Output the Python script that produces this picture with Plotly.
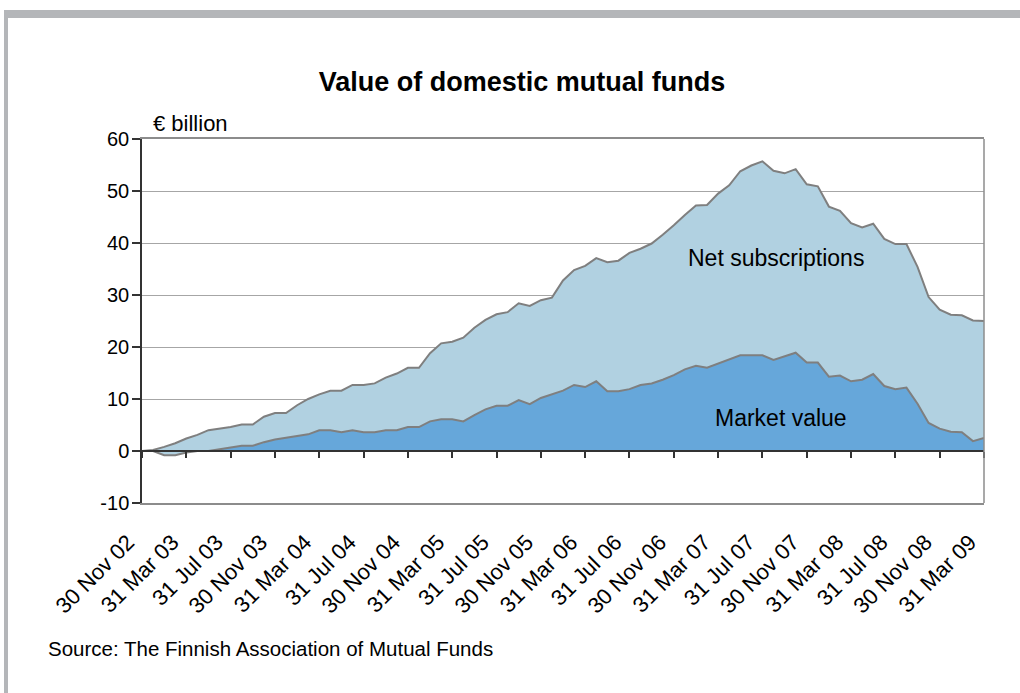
import plotly.graph_objects as go

# Month-end observations, Nov 2002 .. Mar 2009 (EUR billion)
months = [
    "Nov 02", "Dec 02", "Jan 03", "Feb 03", "Mar 03", "Apr 03", "May 03", "Jun 03", "Jul 03", "Aug 03",
    "Sep 03", "Oct 03", "Nov 03", "Dec 03", "Jan 04", "Feb 04", "Mar 04", "Apr 04", "May 04", "Jun 04",
    "Jul 04", "Aug 04", "Sep 04", "Oct 04", "Nov 04", "Dec 04", "Jan 05", "Feb 05", "Mar 05", "Apr 05",
    "May 05", "Jun 05", "Jul 05", "Aug 05", "Sep 05", "Oct 05", "Nov 05", "Dec 05", "Jan 06", "Feb 06",
    "Mar 06", "Apr 06", "May 06", "Jun 06", "Jul 06", "Aug 06", "Sep 06", "Oct 06", "Nov 06", "Dec 06",
    "Jan 07", "Feb 07", "Mar 07", "Apr 07", "May 07", "Jun 07", "Jul 07", "Aug 07", "Sep 07", "Oct 07",
    "Nov 07", "Dec 07", "Jan 08", "Feb 08", "Mar 08", "Apr 08", "May 08", "Jun 08", "Jul 08", "Aug 08",
    "Sep 08", "Oct 08", "Nov 08", "Dec 08", "Jan 09", "Feb 09", "Mar 09",
]

# Cumulative change in market value
market_value = [
    0, 0, -0.8, -0.8, -0.3, 0, 0, 0.3, 0.6, 1.0,
    1.0, 1.7, 2.2, 2.5, 2.8, 3.2, 4.0, 4.0, 3.6, 4.0,
    3.6, 3.6, 4.0, 4.0, 4.6, 4.6, 5.7, 6.1, 6.1, 5.7,
    6.9, 8.0, 8.7, 8.7, 9.8, 9.0, 10.2, 10.9, 11.6, 12.7,
    12.3, 13.4, 11.5, 11.5, 11.9, 12.7, 13.0, 13.7, 14.6, 15.7,
    16.4, 16.0, 16.8, 17.5, 18.4, 18.4, 18.4, 17.5, 18.2, 18.9,
    17.0, 17.0, 14.3, 14.5, 13.4, 13.7, 14.8, 12.5, 11.9, 12.2,
    9.1, 5.4, 4.3, 3.7, 3.6, 1.9, 2.5,
]

# Market value plus cumulative net subscriptions (upper envelope)
total_value = [
    0, 0.2, 0.8, 1.5, 2.4, 3.1, 4.0, 4.3, 4.6, 5.1,
    5.1, 6.6, 7.3, 7.3, 8.8, 10.0, 10.9, 11.6, 11.6, 12.7,
    12.7, 13.0, 14.1, 14.9, 16.0, 16.0, 18.8, 20.7, 21.0, 21.8,
    23.7, 25.2, 26.3, 26.7, 28.4, 27.9, 29.0, 29.5, 32.8, 34.8,
    35.6, 37.1, 36.3, 36.6, 38.1, 38.9, 39.9, 41.6, 43.4, 45.4,
    47.2, 47.3, 49.5, 51.1, 53.8, 54.9, 55.7, 53.9, 53.4, 54.2,
    51.3, 50.9, 47.0, 46.2, 43.8, 43.0, 43.7, 40.8, 39.8, 39.8,
    35.4, 29.6, 27.2, 26.2, 26.1, 25.1, 25.0,
]

x_tick_labels = [
    "30 Nov 02", "31 Mar 03", "31 Jul 03", "30 Nov 03", "31 Mar 04", "31 Jul 04", "30 Nov 04",
    "31 Mar 05", "31 Jul 05", "30 Nov 05", "31 Mar 06", "31 Jul 06", "30 Nov 06", "31 Mar 07",
    "31 Jul 07", "30 Nov 07", "31 Mar 08", "31 Jul 08", "30 Nov 08", "31 Mar 09",
]
y_tick_values = [-10, 0, 10, 20, 30, 40, 50, 60]
y_tick_labels = ["-10", "0", "10", "20", "30", "40", "50", "60"]

idx = list(range(len(months)))
x_tick_positions = idx[::4]

FONT = "Liberation Sans, Arial, sans-serif"
W, H = 1020, 693
ML, MR, MT, MB = 142, 36, 139, 190
PW, PH = W - ML - MR, H - MT - MB


def px_x(px):
    return (px - ML) / PW


def px_y(py):
    return (H - MB - py) / PH


LINE = "#7f7f7f"
DARK = "#66a7da"
LIGHT = "#b1d1e1"

fig = go.Figure()
fig.add_trace(go.Scatter(
    x=idx, y=market_value, mode="lines", name="Market value",
    line=dict(color=LINE, width=2), fill="tozeroy", fillcolor=DARK,
    hoverinfo="skip",
))
fig.add_trace(go.Scatter(
    x=idx, y=total_value, mode="lines", name="Net subscriptions",
    line=dict(color=LINE, width=2), fill="tonexty", fillcolor=LIGHT,
    hoverinfo="skip",
))
# carrier trace for the zero-level category axis
fig.add_trace(go.Scatter(
    x=idx, y=market_value, xaxis="x2", mode="lines",
    line=dict(width=0), opacity=0, hoverinfo="skip", showlegend=False,
))

fig.update_layout(
    width=W, height=H,
    margin=dict(l=ML, r=MR, t=MT, b=MB),
    paper_bgcolor="white", plot_bgcolor="white",
    showlegend=False,
    font=dict(family=FONT, size=20, color="black"),
    title=dict(
        text="<b>Value of domestic mutual funds</b>",
        font=dict(family=FONT, size=27, color="black"),
        x=522 / W, xanchor="center", xref="container",
        y=1 - 82 / H, yanchor="middle", yref="container",
    ),
    xaxis=dict(
        range=[0, len(months) - 1],
        tickvals=x_tick_positions, ticktext=x_tick_labels,
        tickangle=-45, ticks="", showgrid=False, zeroline=False,
        showline=True, linecolor="#8c8c8c", linewidth=1.5, mirror=True,
        tickfont=dict(family=FONT, size=22, color="black"),
        ticklabelstandoff=16, ticklabelshift=-14,
    ),
    xaxis2=dict(
        overlaying="x", matches="x", anchor="free",
        position=(0 - y_tick_values[0]) / (y_tick_values[-1] - y_tick_values[0]),
        tickvals=x_tick_positions, showticklabels=False,
        ticks="outside", ticklen=6, tickwidth=1.5, tickcolor="#333333",
        showline=True, linecolor="#333333", linewidth=1.5,
        showgrid=False, zeroline=False,
    ),
    yaxis=dict(
        range=[y_tick_values[0], y_tick_values[-1]],
        tickvals=y_tick_values, ticktext=y_tick_labels,
        ticks="outside", ticklen=8, tickwidth=1.5, tickcolor="#333333",
        showline=True, linecolor="#333333", linewidth=1.5,
        showgrid=True, gridcolor="#a6a6a6", gridwidth=1,
        zeroline=False, ticklabelstandoff=-1,
        tickfont=dict(family=FONT, size=20, color="black"),
    ),
)

shapes = [
    # right edge of the plot frame
    dict(type="line", xref="x domain", yref="y domain", x0=1, x1=1, y0=0, y1=1,
         line=dict(color="#8c8c8c", width=1.5), layer="above"),
    # outer grey frame (top and left bars)
    dict(type="rect", xref="paper", yref="paper",
         x0=px_x(4), x1=px_x(W + 2), y0=px_y(18), y1=px_y(10),
         fillcolor="#b4b6b9", line=dict(width=0), layer="above"),
    dict(type="rect", xref="paper", yref="paper",
         x0=px_x(4), x1=px_x(8), y0=px_y(H + 2), y1=px_y(10),
         fillcolor="#b4b6b9", line=dict(width=0), layer="above"),
]
fig.update_layout(shapes=shapes)

annotations = [
    dict(text="€ billion", xref="paper", yref="paper", x=px_x(151), y=px_y(124),
         xanchor="left", yanchor="middle", showarrow=False,
         font=dict(family=FONT, size=22, color="black")),
    dict(text="Net subscriptions", xref="x", yref="y", x=57.2, y=37.1,
         xanchor="center", yanchor="middle", showarrow=False,
         font=dict(family=FONT, size=23, color="black")),
    dict(text="Market value", xref="x", yref="y", x=57.7, y=6.3,
         xanchor="center", yanchor="middle", showarrow=False,
         font=dict(family=FONT, size=23, color="black")),
    dict(text="Source: The Finnish Association of Mutual Funds", xref="paper", yref="paper",
         x=px_x(46), y=px_y(648), xanchor="left", yanchor="middle", showarrow=False,
         font=dict(family=FONT, size=20.5, color="black")),
]
fig.update_layout(annotations=annotations)

fig.write_html("out.html")
